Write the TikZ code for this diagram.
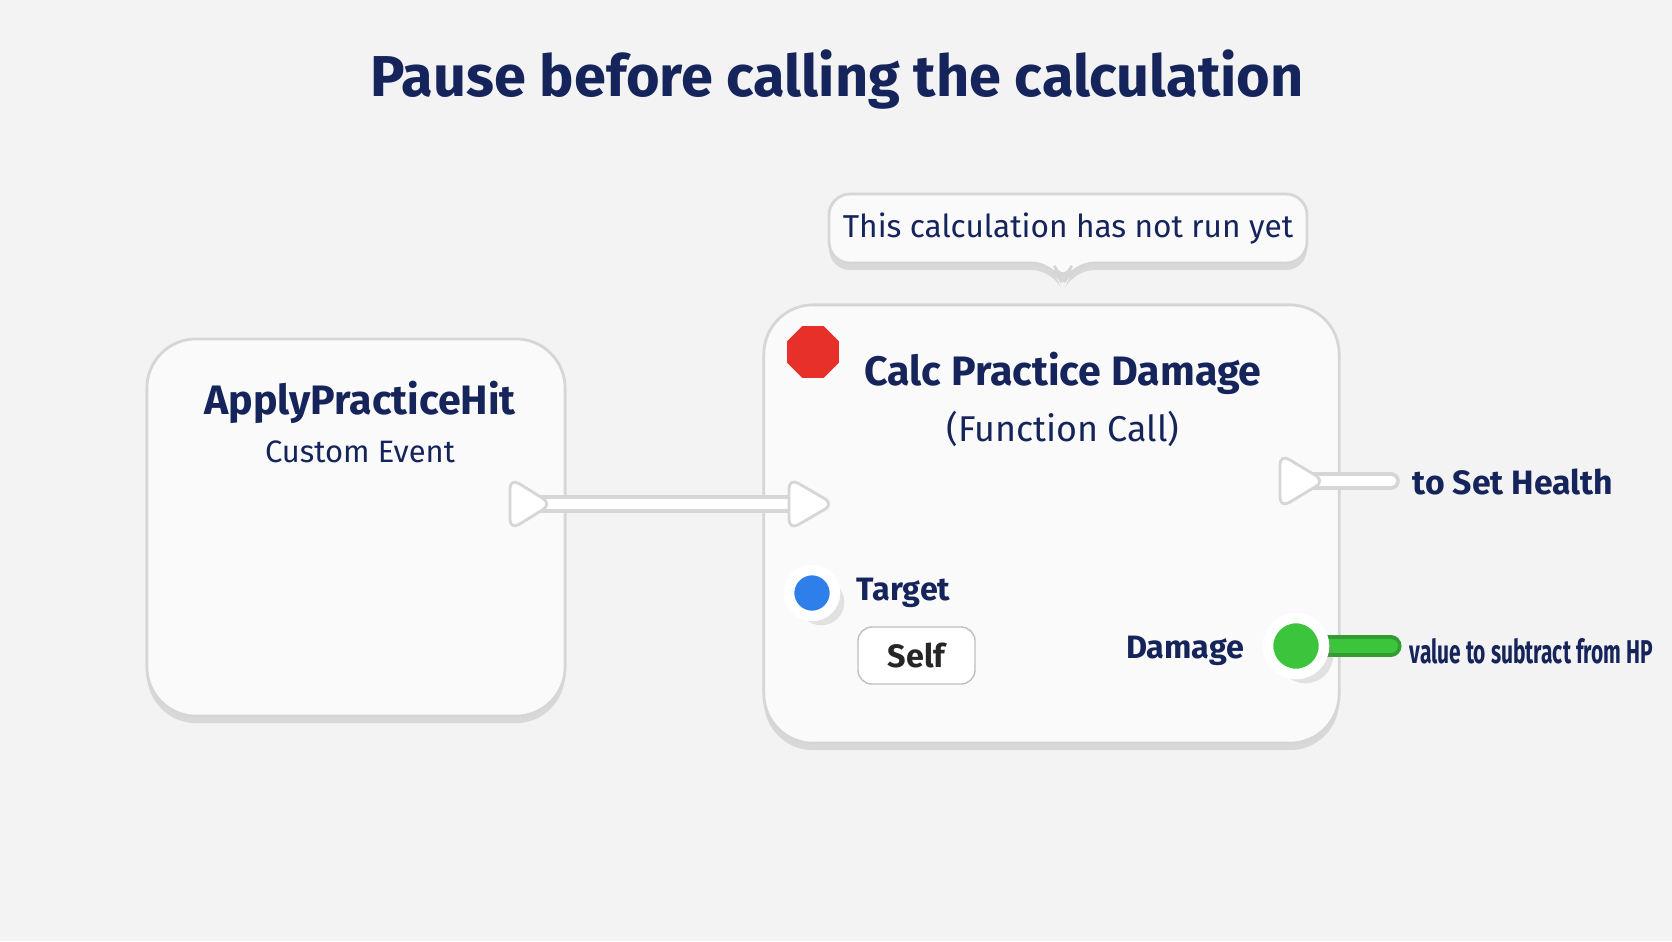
\documentclass[tikz,border=0pt]{standalone}
\usepackage{fontspec}
\setmainfont{Fira Sans}
\usepackage{graphicx}
\usetikzlibrary{shapes.geometric, shadows, positioning}
\definecolor{navy}{HTML}{15245A}
\definecolor{bgc}{HTML}{F3F3F3}
\definecolor{edgec}{HTML}{D6D6D6}
\definecolor{pinred}{HTML}{E8302A}
\definecolor{pinblue}{HTML}{2F7FEA}
\definecolor{pingreen}{HTML}{3DC43D}
\tikzset{
  txt/.style={text=navy, inner sep=0pt},
  card/.style={draw=edgec, fill=white!60!bgc, rounded corners=14pt, line width=0.8pt,
    drop shadow={shadow xshift=0pt, shadow yshift=-2pt, fill=black!35, opacity=0.35}},
  execpin/.style={draw=edgec, fill=white, line width=0.8pt, rounded corners=3pt},
  wire/.style={line width=5pt, line cap=round},
}
\begin{document}
\begin{tikzpicture}[x=0.01cm, y=-0.01cm]
	\fill[bgc] (0,0) rectangle (1672,941);
	\useasboundingbox (0,0) rectangle (1672,941);
	\node[txt, font=\bfseries\fontsize{16.4}{20}\selectfont] (title) at (837,80) {Pause before calling the calculation};
	% event node
	\node[card, minimum width=4.18cm, minimum height=3.77cm] (event) at (356,527.5) {};
	\node[txt, font=\fontsize{11.7}{14}\selectfont\bfseries] (eventname) at (360,402) {ApplyPracticeHit};
	\node[txt, font=\fontsize{8.8}{11}\selectfont] (eventkind) at (360,452) {Custom Event};
	% function node
	\node[card, minimum width=5.75cm, minimum height=4.38cm] (func) at (1051.5,524) {};
	% callout
	\draw[card, rounded corners=6pt] (829,194) -- (1307,194) -- (1307,263) -- (1073,263)
		-- (1063,285) -- (1053,263) -- (829,263) -- cycle;
	\node[txt, font=\fontsize{9}{11}\selectfont] (note) at (1068,229) {This calculation has not run yet};
	\node[regular polygon, regular polygon sides=8, fill=pinred,
		minimum size=0.56cm, inner sep=0pt] (stop) at (813,352) {};
	\node[txt, font=\fontsize{11.7}{14}\selectfont\bfseries] (funcname) at (1063,373) {Calc Practice Damage};
	\node[txt, font=\fontsize{10.2}{12}\selectfont] (funckind) at (1063,429) {(Function Call)};
	% exec pins
	\coordinate (execoutA) at (531,504);
	\coordinate (execinB) at (811,504);
	\coordinate (execoutB) at (1302,481);
	\coordinate (healthend) at (1391,481);
	\draw[wire, draw=edgec] (execoutA) -- (execinB);
	\draw[wire, draw=white, line width=3pt] (execoutA) -- (execinB);
	\draw[wire, draw=edgec] (execoutB) -- (healthend);
	\draw[wire, draw=white, line width=3pt] (execoutB) -- (healthend);
	\draw[execpin] (510,478) -- (552,504) -- (510,530) -- cycle;
	\draw[execpin] (789,478) -- (834,504) -- (789,530) -- cycle;
	\draw[execpin] (1280,454) -- (1325,481) -- (1280,508) -- cycle;
	\node[txt, anchor=west, font=\fontsize{9.6}{12}\selectfont\bfseries] (health) at (1412,482) {to Set Health};
	% data pins
	\node[circle, fill=pinblue, draw=white, line width=3pt, minimum size=0.46cm, inner sep=0pt,
		drop shadow={opacity=0.2}] (target) at (812,593) {};
	\node[txt, anchor=west, font=\fontsize{9.2}{12}\selectfont\bfseries] (targetlbl) at (856,593) {Target};
	\node[draw=black!25, fill=white, rounded corners=4pt, minimum width=1.17cm, minimum height=0.57cm,
		text=black!85, font=\fontsize{9.2}{12}\selectfont\bfseries] (self) at (916.5,655.5) {Self};
	\coordinate (dmgend) at (1391,646);
	\draw[wire, draw=pingreen!80!black, line width=6pt] (1296,646) -- (dmgend);
	\draw[wire, draw=pingreen, line width=4pt] (1296,646) -- (dmgend);
	\node[circle, fill=pingreen, draw=white, line width=3pt, minimum size=0.56cm, inner sep=0pt,
		drop shadow={opacity=0.2}] (damage) at (1296,646) {};
	\node[txt, anchor=east, font=\fontsize{9.2}{12}\selectfont\bfseries] (damagelbl) at (1245,651) {Damage};
	\node[txt, anchor=west, font=\fontsize{12}{14}\selectfont\bfseries] (hpnote) at (1409,651)
		{\resizebox{2.43cm}{0.25cm}{value to subtract from HP}};
\end{tikzpicture}
\end{document}
